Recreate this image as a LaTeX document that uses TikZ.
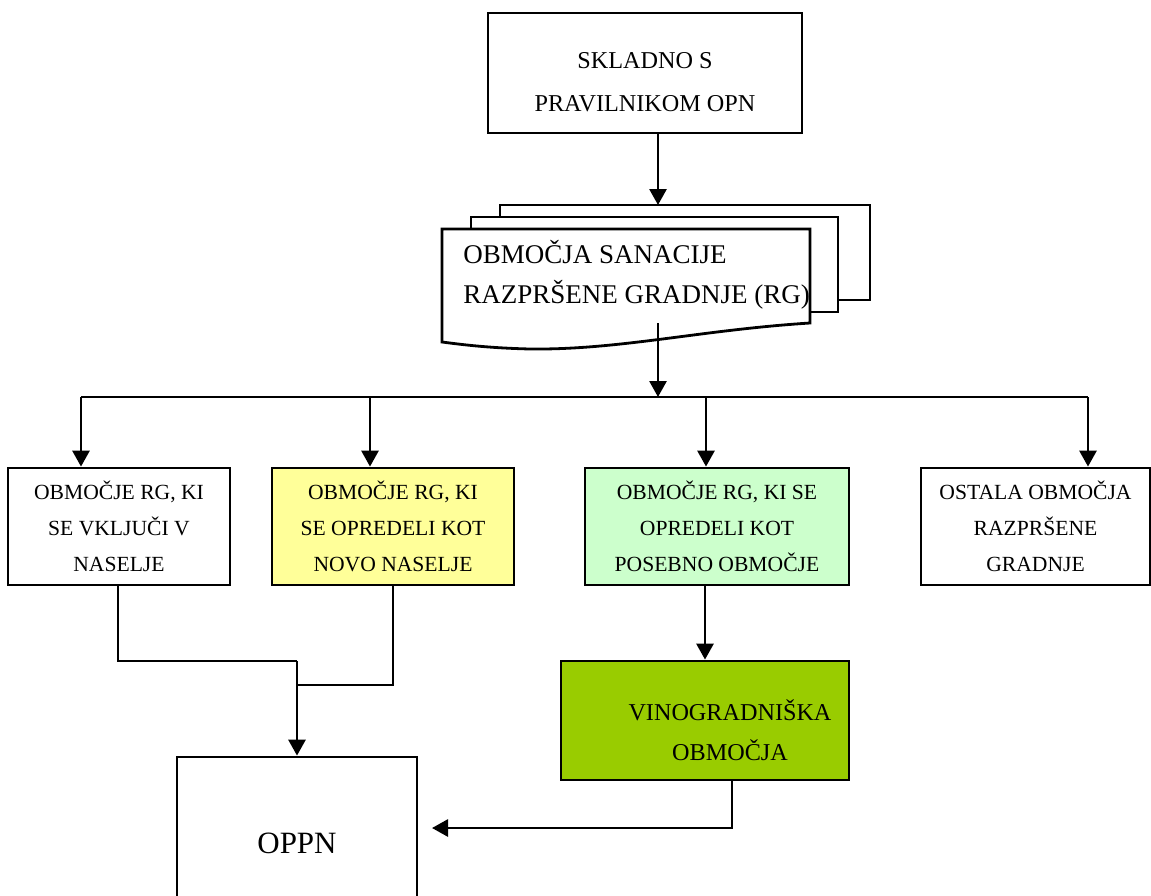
\documentclass[tikz,border=0pt]{standalone}
\usepackage{fontspec}
\setmainfont{Liberation Serif}
\usetikzlibrary{arrows.meta, positioning}
\definecolor{paleyellow}{HTML}{FFFF99}
\definecolor{palegreen}{HTML}{CCFFCC}
\definecolor{vinegreen}{HTML}{99CC00}

\begin{document}
\begin{tikzpicture}[
    x=0.5pt, y=-0.5pt,
    line width=1.4pt,
    >={Triangle[length=8pt, width=8.5pt]},
    % Styles for boxes, texts and the stacked sheets
    box/.style={draw=black, line width=1.4pt, rectangle, inner sep=0pt, align=center},
    small/.style={font=\fontsize{10.8}{18}\selectfont},
    sheet/.style={draw=black, line width=1.4pt, fill=white}
]
    \clip (0,0) rectangle (1151,895);

    % 1. The top box
    \node[box, minimum width=157pt, minimum height=60pt] (topbox) at (645,73) {};
    \node[align=center, font=\fontsize{12.1}{21.5}\selectfont] (toptxt) at (645,82)
        {SKLADNO S\\PRAVILNIKOM OPN};

    % 2. The stacked documents (three sheets)
    \draw[sheet] (500,205) rectangle (870,300);
    \draw[sheet] (471,217) rectangle (838,312);
    \draw[sheet] (442,229) -- (810,229) -- (810,323)
        .. controls (700,330) and (620,350) .. (530,349)
        .. controls (490,348) and (465,345) .. (442,342) -- cycle;
    \node[anchor=west, align=left, inner sep=0pt, font=\fontsize{13.5}{20}\selectfont] (doc) at (462,275)
        {OBMOČJA SANACIJE\\RAZPRŠENE GRADNJE (RG)};

    \coordinate (docin) at (658,205);
    \coordinate (docout) at (658,323);
    \coordinate (bus) at (658,397);
    \draw[->] (topbox.south -| docin) -- (docin);
    \draw[->] (docout) -- (bus);

    % 3. The four kinds of areas
    \node[box, small, minimum width=111pt, minimum height=58.5pt] (box1) at (119,526.5)
        {OBMOČJE RG, KI\\SE VKLJUČI V\\NASELJE};
    \node[box, small, fill=paleyellow, minimum width=121pt, minimum height=58.5pt] (box2) at (393,526.5)
        {OBMOČJE RG, KI\\SE OPREDELI KOT\\NOVO NASELJE};
    \node[box, small, fill=palegreen, minimum width=132pt, minimum height=58.5pt] (box3) at (717,526.5)
        {OBMOČJE RG, KI SE\\OPREDELI KOT\\POSEBNO OBMOČJE};
    \node[box, small, minimum width=114.5pt, minimum height=58.5pt] (box4) at (1035.5,526.5)
        {OSTALA OBMOČJA\\RAZPRŠENE\\GRADNJE};

    % The branching line
    \coordinate (b1) at (81,397);
    \coordinate (b2) at (370,397);
    \coordinate (b3) at (706,397);
    \coordinate (b4) at (1088,397);
    \draw (b1) -- (b4);
    \foreach \b/\n in {b1/box1, b2/box2, b3/box3, b4/box4} {
        \draw[->] (\b) -- (\b |- \n.north);
    }

    % 4. Vineyard areas
    \node[box, fill=vinegreen, minimum width=144pt, minimum height=59.5pt] (vino) at (705,720.5) {};
    \node[align=center, font=\fontsize{12.1}{20}\selectfont] (vinotxt) at (730,730)
        {VINOGRADNIŠKA\\OBMOČJA};
    \draw[->] (box3.south -| vino.north) -- (vino.north);

    % 5. OPPN
    \node[box, font=\fontsize{15.5}{18}\selectfont, minimum width=120pt, minimum height=86pt] (oppn) at (297,843) {OPPN};

    \coordinate (o1) at (118,661);
    \coordinate (j1) at (297,661);
    \coordinate (o2) at (393,685);
    \coordinate (j2) at (297,685);
    \draw (o1 |- box1.south) -- (o1) -- (j1);
    \draw (box2.south) -- (o2) -- (j2);
    \draw[->] (j1) -- (j1 |- oppn.north);

    \coordinate (o4) at (732,828);
    \coordinate (oppnin) at (432,828);
    \draw[->] (o4 |- vino.south) -- (o4) -- (oppnin);

\end{tikzpicture}
\end{document}
